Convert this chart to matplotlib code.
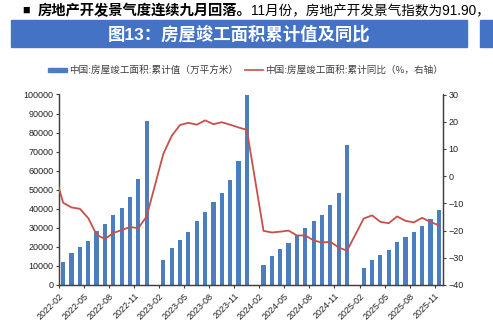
import numpy as np
import pandas as pd
import matplotlib
matplotlib.use("Agg")
import matplotlib.pyplot as plt
from matplotlib.patches import Rectangle
from matplotlib.lines import Line2D

plt.rcParams['font.family'] = ['Liberation Sans', 'Noto Sans CJK SC']

# monthly slots, 2021-12 .. 2025-11 (2021-12 only feeds the clipped start of the line)
months = [p.strftime('%Y-%m') for p in pd.period_range('2021-12', '2025-11', freq='M')]

# cumulative completed floor area, Feb..Dec (10k m2)
area_2022 = [12000, 16750, 19900, 23000, 28450, 31900, 36650, 40650, 46250, 55500, 86000]
area_2023 = [13100, 19400, 23750, 27900, 33850, 38200, 43600, 48500, 55150, 65250, 99650]
area_2024 = [10300, 15200, 18850, 22150, 26000, 29850, 33350, 36800, 41900, 48150, 73650]
area_2025 = [8900, 13100, 15700, 18300, 22500, 25150, 27750, 30900, 34900, 39450]

# cumulative yoy (%), Feb..Dec
yoy_2021_12 = 11.2
yoy_2022 = [-9.8, -11.5, -12.0, -15.4, -21.5, -23.1, -20.9, -19.8, -18.7, -19.1, -14.8]
yoy_2023 = [8.2, 14.8, 18.8, 19.6, 18.9, 20.5, 19.1, 19.8, 18.9, 17.9, 17.0]
yoy_2024 = [-20.1, -20.7, -20.4, -20.0, -21.8, -21.8, -23.6, -24.4, -24.1, -26.2, -27.4]
yoy_2025 = [-15.6, -14.4, -16.8, -17.3, -14.8, -16.4, -17.0, -15.3, -16.9, -18.0]

area = [np.nan, np.nan]
yoy = [yoy_2021_12, np.nan]
for a, y in [(area_2022, yoy_2022), (area_2023, yoy_2023), (area_2024, yoy_2024)]:
    area += a + [np.nan]
    yoy += y + [np.nan]
area += area_2025
yoy += yoy_2025
area = np.array(area, dtype=float)
yoy = np.array(yoy, dtype=float)

label_bar = '中国:房屋竣工面积:累计值（万平方米）'
label_line = '中国:房屋竣工面积:累计同比（%，右轴）'
title = '图13：房屋竣工面积累计值及同比'

BLUE = '#4a7ebf'
RED = '#c8504b'
GREY = '#404040'

fig = plt.figure(figsize=(4.93, 3.33), dpi=100)

# header text and blue title banner
fig.text(22 / 493, 1 - 11 / 333, '■', fontsize=9, color='black', va='center', ha='left')
fig.text(38 / 493, 1 - 11 / 333, '房地产开发景气度连续九月回落。', fontsize=10.3,
         fontweight='bold', color='black', va='center', ha='left')
fig.text(251 / 493, 1 - 11 / 333, '11月份，房地产开发景气指数为91.90，', fontsize=9.8,
         color='black', va='center', ha='left')
fig.patches.append(Rectangle((11 / 493, 1 - 47 / 333), 456 / 493, 27 / 333,
                             transform=fig.transFigure, color='#4472c4', zorder=0))
fig.patches.append(Rectangle((480 / 493, 1 - 47 / 333), 20 / 493, 27 / 333,
                             transform=fig.transFigure, color='#4472c4', zorder=0))
fig.text(239 / 493, 1 - 33.5 / 333, title, fontsize=12.5, color='white',
         va='center', ha='center', fontweight='bold')

# legend drawn by hand
fig.patches.append(Rectangle((48 / 493, 1 - 72 / 333), 19 / 493, 4 / 333,
                             transform=fig.transFigure, color=BLUE))
fig.text(69 / 493, 1 - 70 / 333, label_bar, fontsize=6.9, color=GREY,
         family=['Noto Sans CJK SC'], va='center', ha='left')
fig.lines.append(Line2D([245 / 493, 263 / 493], [1 - 70 / 333, 1 - 70 / 333],
                        transform=fig.transFigure, color=RED, lw=1.2))
fig.text(265 / 493, 1 - 70 / 333, label_line, fontsize=6.9, color=GREY,
         family=['Noto Sans CJK SC'], va='center', ha='left')

ax = fig.add_axes([59 / 493, 1 - 285 / 333, 384 / 493, 190.5 / 333])
x = np.arange(len(months))
ax.bar(x, area, width=0.5, color=BLUE, zorder=2)
ax.set_ylim(0, 100000)
ax.set_yticks(np.arange(0, 100001, 10000))
ax.set_xlim(1.5, 47.5)
tick_idx = list(range(2, len(months), 3))
ax.set_xticks([i - 0.5 for i in tick_idx])
ax.set_xticklabels([months[i] for i in tick_idx], rotation=45, ha='right',
                   rotation_mode='anchor')

ax2 = ax.twinx()
ok = ~np.isnan(yoy)
ax2.plot(x[ok], yoy[ok], color=RED, lw=1.3, zorder=3)
ax2.set_ylim(-40, 30)
ax2.set_yticks(np.arange(-40, 31, 10))
ax2.set_xlim(1.5, 47.5)

for a in (ax, ax2):
    a.spines['top'].set_visible(False)
    for s in ('left', 'right', 'bottom'):
        a.spines[s].set_color(GREY)
        a.spines[s].set_linewidth(0.9)
    a.tick_params(labelsize=6.5, colors=GREY, length=2.5, width=0.8, pad=1.5)
ax.tick_params(axis='y', labelcolor='#222222')
ax2.tick_params(axis='y', labelcolor='#222222')
ax.tick_params(axis='x', labelcolor='#222222', pad=2)

fig.savefig('out.png', dpi=100)
